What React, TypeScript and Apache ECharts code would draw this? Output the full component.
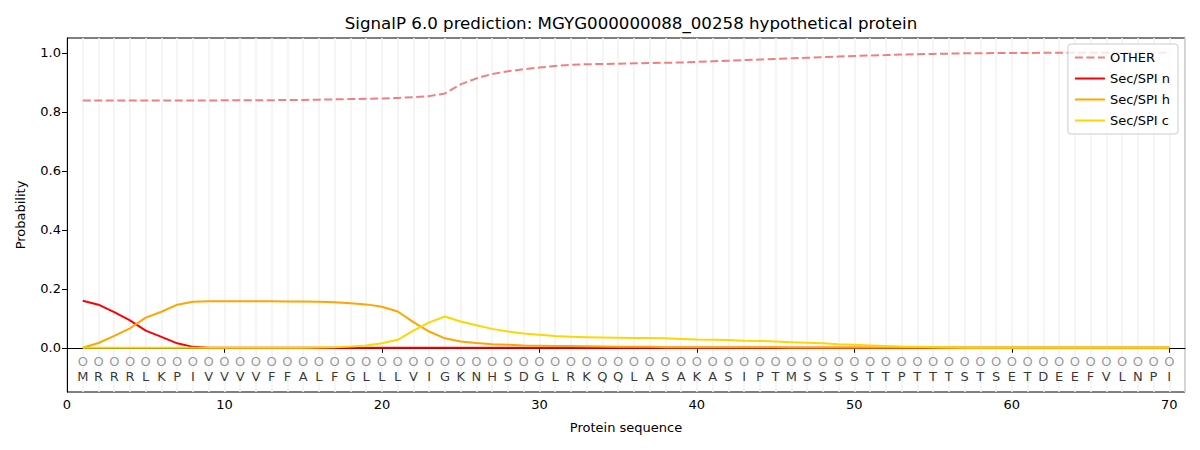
import React, { useEffect, useRef } from "react";
import * as echarts from "echarts";

const titleText = "SignalP 6.0 prediction: MGYG000000088_00258 hypothetical protein";
const sequence = "MRRRLKPIVVVVFFALFGLLLVIGKNHSDGLRKQQLASAKASIPTMSSSSTTPTTTSTSETDEEFVLNPI".split("");
const positions = sequence.map((_, i) => i + 1);

const otherProb = [
  0.838, 0.838, 0.838, 0.838, 0.838, 0.838, 0.838, 0.838, 0.838, 0.839,
  0.839, 0.839, 0.839, 0.840, 0.840, 0.841, 0.842, 0.843, 0.844, 0.845,
  0.847, 0.849, 0.853, 0.862, 0.893, 0.913, 0.928, 0.937, 0.944, 0.950,
  0.955, 0.959, 0.961, 0.962, 0.963, 0.964, 0.965, 0.966, 0.967, 0.969,
  0.971, 0.973, 0.975, 0.977, 0.979, 0.981, 0.983, 0.985, 0.987, 0.989,
  0.991, 0.992, 0.994, 0.995, 0.996, 0.997, 0.998, 0.998, 0.999, 0.999,
  0.999, 1.0, 1.0, 1.0, 1.0, 1.0, 1.0, 1.0, 1.0, 1.0,
];
const secN = [
  0.159, 0.146, 0.121, 0.093, 0.058, 0.037, 0.015, 0.003, 0.0, 0.0,
  0, 0, 0, 0, 0, 0, 0, 0, 0, 0,
  0, 0, 0, 0, 0, 0, 0, 0, 0, 0,
  0, 0, 0, 0, 0, 0, 0, 0, 0, 0,
  0, 0, 0, 0, 0, 0, 0, 0, 0, 0,
  0, 0, 0, 0, 0, 0, 0, 0, 0, 0,
  0, 0, 0, 0, 0, 0, 0, 0, 0, 0,
];
const secH = [
  0.0, 0.016, 0.040, 0.066, 0.102, 0.122, 0.146, 0.156, 0.158, 0.158,
  0.158, 0.158, 0.158, 0.157, 0.157, 0.156, 0.154, 0.151, 0.147, 0.139,
  0.123, 0.087, 0.055, 0.032, 0.021, 0.016, 0.012, 0.010, 0.008, 0.007,
  0.006, 0.006, 0.005, 0.004, 0.003, 0.003, 0.003, 0.002, 0.002, 0.002,
  0.002, 0.002, 0.002, 0.002, 0.002, 0.001, 0.001, 0.001, 0.001, 0.001,
  0.001, 0.001, 0.001, 0.001, 0.001, 0.001, 0.001, 0.001, 0.001, 0.001,
  0.001, 0.001, 0.001, 0.001, 0.001, 0.001, 0.001, 0.001, 0.001, 0.001,
];
const secC = [
  0, 0, 0, 0, 0, 0, 0, 0, 0, 0,
  0, 0, 0, 0, 0, 0.001, 0.002, 0.004, 0.008, 0.015,
  0.027, 0.058, 0.086, 0.106, 0.089, 0.076, 0.064, 0.055, 0.048, 0.044,
  0.040, 0.037, 0.036, 0.035, 0.034, 0.033, 0.033, 0.032, 0.030, 0.028,
  0.027, 0.026, 0.024, 0.023, 0.021, 0.019, 0.017, 0.015, 0.012, 0.010,
  0.008, 0.006, 0.004, 0.003, 0.002, 0.001, 0, 0, 0, 0,
  0, 0, 0, 0, 0, 0, 0, 0, 0, 0,
];
const yTicks = [0, 0.2, 0.4, 0.6, 0.8, 1.0];
const xTicks = [0, 10, 20, 30, 40, 50, 60, 70];

const FONT = "DejaVu Sans";

export default function App() {
  const ref = useRef<HTMLDivElement>(null);
  useEffect(() => {
    document.body.style.margin = "0";
    if (!ref.current) return;
    const chart = echarts.init(ref.current, undefined, { renderer: "svg" });
    const pair = (arr: number[]) => positions.map((p, i) => [p, arr[i]]);
    chart.setOption({
      animation: false,
      textStyle: { fontFamily: FONT },
      title: {
        text: titleText,
        left: 626,
        textAlign: "center",
        top: 10,
        textStyle: { fontFamily: FONT, fontSize: 16.67, fontWeight: "normal", color: "#000" },
      },
      grid: {
        left: 67,
        right: 15,
        top: 38,
        bottom: 58,
        show: true,
        borderColor: "#000",
        borderWidth: 1,
        backgroundColor: "transparent",
      },
      legend: {
        orient: "vertical",
        right: 22,
        top: 44,
        itemWidth: 30,
        itemHeight: 12,
        itemGap: 8,
        padding: [7, 8, 7, 6],
        borderColor: "#cccccc",
        borderWidth: 1,
        borderRadius: 3,
        backgroundColor: "rgba(255,255,255,0.8)",
        itemStyle: { opacity: 0 },
        textStyle: { fontFamily: FONT, fontSize: 13, color: "#000" },
        data: ["OTHER", "Sec/SPI n", "Sec/SPI h", "Sec/SPI c"],
      },
      xAxis: [
        {
          type: "value",
          min: 0,
          max: 71,
          name: "Protein sequence",
          nameLocation: "middle",
          nameGap: 29,
          nameTextStyle: { fontFamily: FONT, fontSize: 13, color: "#000" },
          axisLine: { show: true, lineStyle: { color: "#000", width: 1 } },
          axisTick: { show: true, inside: false, length: 5, lineStyle: { color: "#000" }, customValues: xTicks },
          axisLabel: { show: true, color: "#000", fontSize: 13, fontFamily: FONT, margin: 6, customValues: xTicks },
          splitLine: { show: false },
        },
        {
          type: "value",
          min: 0,
          max: 71,
          interval: 1,
          position: "top",
          axisLine: { show: false },
          axisTick: { show: false },
          axisLabel: { show: false },
          splitLine: { show: true, lineStyle: { color: "#f2f2f2", width: 1.5 } },
        },
      ],
      yAxis: {
        type: "value",
        min: -0.15,
        max: 1.05,
        name: "Probability",
        nameLocation: "middle",
        nameGap: 40,
        nameTextStyle: { fontFamily: FONT, fontSize: 13, color: "#000" },
        axisLine: { show: true, lineStyle: { color: "#000", width: 1 } },
        axisTick: { show: true, inside: false, length: 5, lineStyle: { color: "#000" }, customValues: yTicks },
        axisLabel: {
          show: true,
          color: "#000",
          fontSize: 13,
          fontFamily: FONT,
          margin: 6,
          customValues: yTicks,
          formatter: (v: number) => v.toFixed(1),
        },
        splitLine: { show: false },
      },
      series: [
        {
          name: "OTHER",
          type: "line",
          data: pair(otherProb),
          symbol: "none",
          color: "#F08080",
          lineStyle: { color: "#F08080", width: 2, type: [8, 3.5] },
          z: 3,
        },
        {
          name: "Sec/SPI n",
          type: "line",
          data: pair(secN),
          symbol: "none",
          color: "#FF0000",
          lineStyle: { color: "#FF0000", width: 2 },
          z: 4,
        },
        {
          name: "Sec/SPI h",
          type: "line",
          data: pair(secH),
          symbol: "none",
          color: "#FFA500",
          lineStyle: { color: "#FFA500", width: 2 },
          z: 5,
        },
        {
          name: "Sec/SPI c",
          type: "line",
          data: pair(secC),
          symbol: "none",
          color: "#FFD700",
          lineStyle: { color: "#FFD700", width: 2 },
          z: 6,
        },
        {
          name: "circles",
          type: "scatter",
          data: positions.map((p) => [p, -0.045]),
          symbolSize: 1,
          itemStyle: { color: "transparent" },
          label: {
            show: true,
            position: "inside",
            formatter: () => "O",
            color: "#808080",
            fontSize: 13,
            fontFamily: FONT,
          },
          silent: true,
          z: 7,
        },
        {
          name: "letters",
          type: "scatter",
          data: positions.map((p) => [p, -0.096]),
          symbolSize: 1,
          itemStyle: { color: "transparent" },
          label: {
            show: true,
            position: "inside",
            formatter: (params: any) => sequence[params.dataIndex],
            color: "#000",
            fontSize: 13,
            fontFamily: FONT,
          },
          silent: true,
          z: 7,
        },
      ],
    });
    return () => chart.dispose();
  }, []);
  return <div ref={ref} style={{ width: 1200, height: 450 }} />;
}
